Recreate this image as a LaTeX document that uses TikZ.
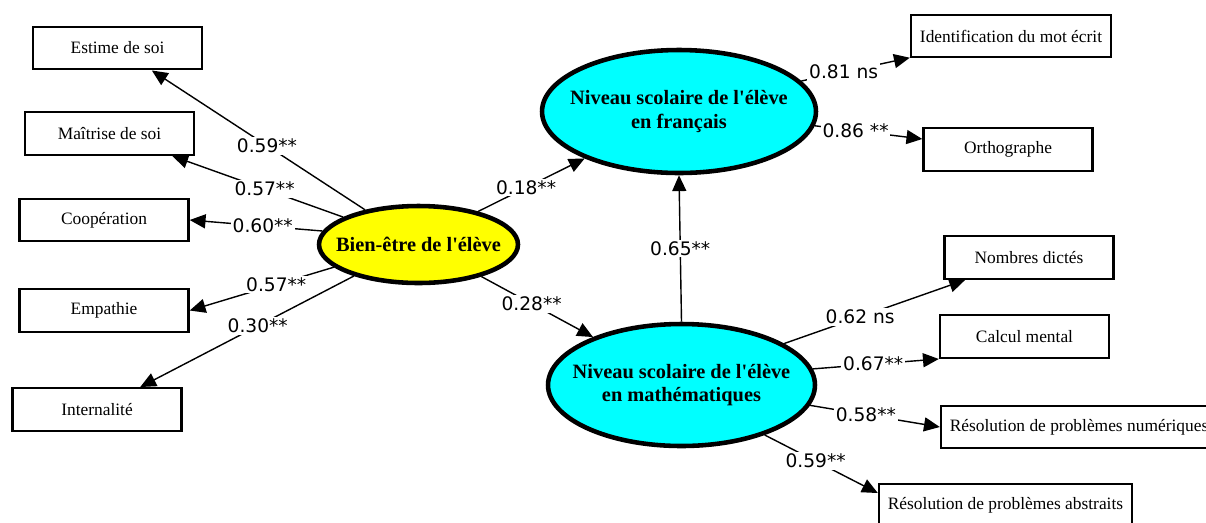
\documentclass[tikz,border=0pt]{standalone}
\usepackage{fontspec}
\newfontfamily\boxfont{Liberation Serif}
\newfontfamily\coeffont{DejaVu Sans}
\usetikzlibrary{shapes.geometric,arrows.meta}
\definecolor{latentcyan}{RGB}{0,255,255}
\definecolor{latentyellow}{RGB}{255,255,0}

\begin{document}
\begin{tikzpicture}[
    x=0.02cm, y=-0.02cm,
    box/.style={rectangle, draw, line width=1.4pt, minimum width=3.38cm, minimum height=0.85cm, inner sep=2pt, font=\boxfont\fontsize{9.9}{11}\selectfont},
    latent/.style={ellipse, draw, line width=2.6pt, inner ysep=0pt, inner xsep=-0.35cm, align=center, font=\boxfont\bfseries\fontsize{11.6}{13.3}\selectfont},
    link/.style={draw, line width=0.8pt, -{Triangle[length=9pt,width=8pt]}},
    coef/.style={fill=white, inner sep=1pt, font=\coeffont\fontsize{10.6}{12}\selectfont}
]
\clip (0,0) rectangle (1206,522);
\fill[white] (0,0) rectangle (1206,522);

\node[latent, fill=latentyellow, minimum width=3.98cm, minimum height=1.54cm] (bien) at (418.5,244.5) {Bien-être de l'élève};
\node[latent, fill=latentcyan, minimum width=5.48cm, minimum height=2.46cm] (fr) at (679,111.5) {Niveau scolaire de l'élève\\en français};
\node[latent, fill=latentcyan, minimum width=5.34cm, minimum height=2.44cm] (math) at (681.5,385) {Niveau scolaire de l'élève\\en mathématiques};

\node[box] (estime) at (117.5,48) {Estime de soi};
\node[box] (maitrise) at (109.5,133.5) {Maîtrise de soi};
\node[box] (coop) at (104,220) {Coopération};
\node[box] (empathie) at (104,310.5) {Empathie};
\node[box] (intern) at (97,409.5) {Internalité};

\node[box, minimum width=4cm] (ident) at (1011,36) {Identification du mot écrit};
\node[box] (ortho) at (1008,149.5) {Orthographe};
\node[box] (nombres) at (1029,257.5) {Nombres dictés};
\node[box] (calcul) at (1024.5,336.5) {Calcul mental};
\node[box, minimum width=5.52cm] (num) at (1079,427) {Résolution de problèmes numériques};
\node[box, minimum width=5.06cm] (abstr) at (1005.5,505) {Résolution de problèmes abstraits};

\draw[link] (bien.147) -- node[coef, pos=0.46] {0.59**} (estime);
\draw[link] (bien.160) -- node[coef, pos=0.46] {0.57**} (maitrise);
\draw[link] (bien.172) -- node[coef, pos=0.45] {0.60**} (coop.east);
\draw[link] (bien.195) -- node[coef, pos=0.40] {0.57**} (empathie.east);
\draw[link] (bien.206) -- node[coef, pos=0.45] {0.30**} (intern);

\draw[link] (bien.29) -- node[coef, pos=0.45] {0.18**} (fr);
\draw[link] (bien.333) -- node[coef, pos=0.45] {0.28**} (math);
\draw[link] (math.north) -- node[coef, pos=0.5] {0.65**} (fr.south);

\draw[link] (fr.14) -- node[coef, pos=0.39] {0.81 ns} (ident);
\draw[link] (fr.354) -- node[coef, pos=0.38] {0.86 **} (ortho);

\draw[link] (math.22) -- node[coef, pos=0.42] {0.62 ns} (nombres);
\draw[link] (math.7) -- node[coef, pos=0.48] {0.67**} (calcul.south west);
\draw[link] (math.351) -- node[coef, pos=0.43] {0.58**} (num.west);
\draw[link] (math.329) -- node[coef, pos=0.45] {0.59**} ([yshift=0.24cm]abstr.west);
\end{tikzpicture}
\end{document}
